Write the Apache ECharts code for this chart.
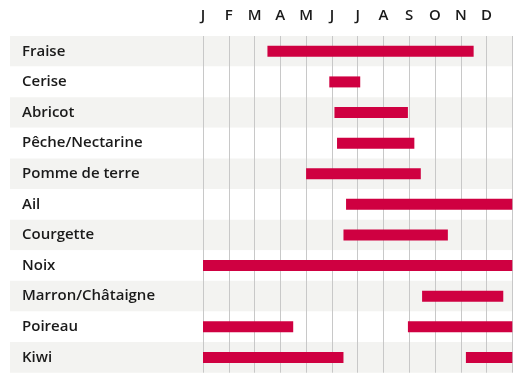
<!DOCTYPE html>
<html><head><meta charset="utf-8">
<script src="https://cdn.jsdelivr.net/npm/echarts@6/dist/echarts.min.js"></script>
<style>html,body{margin:0;padding:0;background:#fff}#c{width:519px;height:382px}</style>
</head><body><div id="c"></div>
<script>
const categories = ['Fraise','Cerise','Abricot','Pêche/Nectarine','Pomme de terre','Ail','Courgette','Noix','Marron/Châtaigne','Poireau','Kiwi'];
const months = ['J','F','M','A','M','J','J','A','S','O','N','D'];
// season ranges in month units (0 = start of January, 12 = end of December)
const start1 = [2.5, 4.9, 5.1, 5.2, 4.0, 5.55, 5.45, 0, 8.5, 0, 0];
const end1   = [10.5, 6.1, 7.95, 8.2, 8.45, 12, 9.5, 12, 11.65, 3.5, 5.45];
const start2 = [null, null, null, null, null, null, null, null, null, 7.95, 10.2];
const end2   = [null, null, null, null, null, null, null, null, null, 12, 12];

const len1 = end1.map((e,i)=>e-start1[i]);
const gap = start2.map((s,i)=> s==null ? 0 : s-end1[i]);
const len2 = end2.map((e,i)=> e==null ? 0 : e-start2[i]);

const FONT = '"Open Sans", "Noto Sans", sans-serif';
const RED = '#cf0041';
const chart = echarts.init(document.getElementById('c'), null, {renderer:'canvas'});
const bar = (name, data, color) => ({
  name, type:'bar', stack:'s', xAxisIndex:1, yAxisIndex:1, data,
  barWidth:11, itemStyle:{color}, silent:true, z:3
});
chart.setOption({
  animation:false,
  grid:[
    {left:10, right:6.7, top:36, bottom:9.3},
    {left:203, right:6.7, top:36, bottom:9.3}
  ],
  xAxis:[
    {gridIndex:0, type:'value', show:false},
    {gridIndex:1, type:'value', position:'top', min:0, max:12, interval:1,
     axisLine:{show:false}, axisTick:{show:false},
     splitLine:{show:true, lineStyle:{color:'#c8c8c8', width:1}},
     axisLabel:{margin:13, fontSize:15, fontWeight:600, color:'#1a1a1a', fontFamily:FONT,
       formatter:v=>months[v]||''}}
  ],
  yAxis:[
    {gridIndex:0, type:'category', inverse:true, data:categories,
     axisLine:{show:false}, axisTick:{show:false}, axisLabel:{show:false},
     splitLine:{show:false},
     splitArea:{show:true, areaStyle:{color:['#f3f3f1','#ffffff']}}},
    {gridIndex:1, type:'category', inverse:true, data:categories,
     axisLine:{show:false}, axisTick:{show:false}, splitLine:{show:false},
     axisLabel:{align:'left', margin:181, padding:[0,0,3,0], fontSize:15, fontWeight:600, color:'#1a1a1a', fontFamily:FONT}}
  ],
  series:[
    bar('base', start1, 'rgba(0,0,0,0)'),
    bar('saison1', len1, RED),
    bar('gap', gap, 'rgba(0,0,0,0)'),
    bar('saison2', len2, RED)
  ]
});
</script></body></html>
